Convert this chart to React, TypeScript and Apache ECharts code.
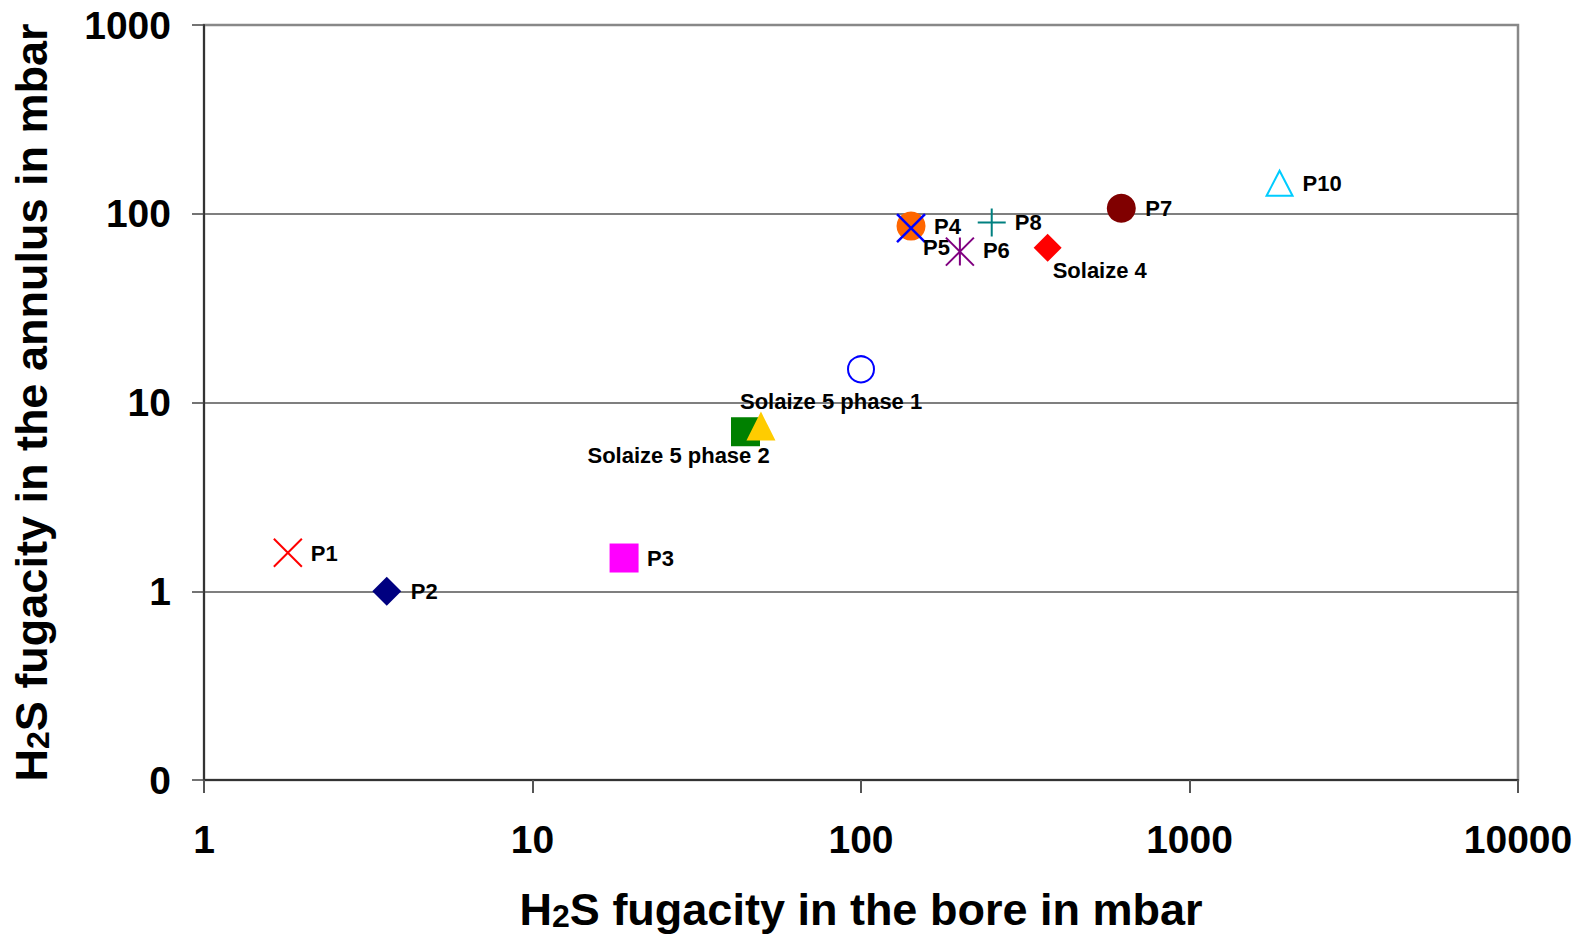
import React, { useEffect, useRef } from "react";
import * as echarts from "echarts";

// ---- Data ----
const seriesNames = [
  "P1",
  "P2",
  "P3",
  "Solaize 5 phase 2",
  "Solaize 5",
  "Solaize 5 phase 1",
  "P4",
  "P5",
  "P6",
  "P8",
  "Solaize 4",
  "P7",
  "P10",
];
const boreFugacity = [1.8, 3.6, 19, 44.5, 49.6, 100, 142, 142, 200, 250, 370, 620, 1880];
const annulusFugacity = [1.6, 1.0, 1.5, 7.0, 7.5, 15, 86, 84, 63, 90, 66, 107, 145];
const showLabel = [true, true, true, true, false, true, true, true, true, true, true, true, true];

const xTickValues = [1, 10, 100, 1000, 10000];
const xTickLabels = ["1", "10", "100", "1000", "10000"];
const yTickValues = [0.1, 1, 10, 100, 1000];
const yTickLabels = ["0", "1", "10", "100", "1000"];

const xAxisTitle = "H{sub|2}S fugacity in the bore in mbar";
const yAxisTitle = "H{sub|2}S fugacity in the annulus in mbar";

// ---- Styles ----
const SYM_X = "path://M0,0L28,28M28,0L0,28";
const SYM_PLUS = "path://M14,0L14,28M0,14L28,14";
const SYM_STAR = "path://M0,0L28,28M28,0L0,28M14,0L14,28";

type Mk = { symbol: string; color: string; size: number | number[]; line?: number };
const markers: Mk[] = [
  { symbol: SYM_X, color: "#FF0000", size: 28, line: 2 },
  { symbol: "diamond", color: "#000080", size: 29 },
  { symbol: "rect", color: "#FF00FF", size: 29 },
  { symbol: "rect", color: "#008000", size: 29 },
  { symbol: "triangle", color: "#FFCC00", size: [29, 29] },
  { symbol: "emptyCircle", color: "#0000FF", size: 26, line: 2.5 },
  { symbol: "circle", color: "#FF6600", size: 29 },
  { symbol: SYM_X, color: "#0000FF", size: 28, line: 2.5 },
  { symbol: SYM_STAR, color: "#800080", size: 28, line: 2 },
  { symbol: SYM_PLUS, color: "#008080", size: 28, line: 2 },
  { symbol: "diamond", color: "#FF0000", size: 28 },
  { symbol: "circle", color: "#800000", size: 29 },
  { symbol: "emptyTriangle", color: "#00CCFF", size: [26, 25], line: 2.5 },
];
const labelOffsets: number[][] = [
  [23, 1],
  [24, 0],
  [23, 0],
  [-158, 24],
  [0, 0],
  [-121, 32],
  [23, 0],
  [12, 19],
  [23, -1],
  [23, 0],
  [5, 23],
  [24, 0],
  [23, 0],
];

const FONT = "'Liberation Sans', Arial, Helvetica, sans-serif";

function tickFormatter(values: number[], labels: string[]) {
  return (v: number) => {
    const lv = Math.log10(v);
    for (let i = 0; i < values.length; i++) {
      if (Math.abs(Math.log10(values[i]) - lv) < 1e-6) return labels[i];
    }
    return "";
  };
}

const titleStyle = {
  fontSize: 45,
  fontWeight: "bold" as const,
  color: "#000",
  fontFamily: FONT,
  rich: {
    sub: {
      fontSize: 32,
      fontWeight: "bold" as const,
      color: "#000",
      fontFamily: FONT,
      lineHeight: 30,
      padding: [32, 0, 0, 0],
      verticalAlign: "bottom" as const,
    },
  },
};

export default function App() {
  const ref = useRef<HTMLDivElement>(null);
  useEffect(() => {
    if (!ref.current) return;
    const chart = echarts.init(ref.current, undefined, { renderer: "svg" });
    const series = seriesNames.map((name, i) => {
      const m = markers[i];
      const isPath = m.symbol.startsWith("path://");
      return {
        type: "scatter",
        name,
        data: [[boreFugacity[i], annulusFugacity[i]]],
        symbol: m.symbol,
        symbolSize: m.size,
        itemStyle: isPath
          ? { color: m.color, borderColor: m.color, borderWidth: m.line, opacity: 1 }
          : m.symbol.startsWith("empty")
          ? { color: m.color, borderWidth: m.line, opacity: 1 }
          : { color: m.color, opacity: 1 },
        label: {
          show: showLabel[i],
          formatter: name,
          position: "inside",
          align: "left",
          verticalAlign: "middle",
          offset: labelOffsets[i],
          fontSize: 22,
          fontWeight: "bold",
          color: "#000",
          fontFamily: FONT,
        },
        emphasis: { disabled: true },
        z: 3 + i,
      };
    });
    chart.setOption({
      animation: false,
      backgroundColor: "#fff",
      grid: {
        left: 204,
        right: 68,
        top: 25,
        bottom: 156,
        show: true,
        borderColor: "#888",
        borderWidth: 2.5,
        containLabel: false,
        outerBoundsMode: "none",
      },
      xAxis: {
        type: "log",
        logBase: 10,
        min: 1,
        max: 10000,
        name: xAxisTitle,
        nameLocation: "middle",
        nameGap: 107,
        nameTextStyle: titleStyle,
        axisLine: { show: true, lineStyle: { color: "#333", width: 2 } },
        axisTick: { show: true, inside: false, length: 13, lineStyle: { color: "#555", width: 2 } },
        axisLabel: {
          formatter: tickFormatter(xTickValues, xTickLabels),
          fontSize: 39,
          fontWeight: "bold",
          color: "#000",
          fontFamily: FONT,
          margin: 40,
        },
        splitLine: { show: false },
        minorTick: { show: false },
      },
      yAxis: {
        type: "log",
        logBase: 10,
        min: 0.1,
        max: 1000,
        name: yAxisTitle,
        nameLocation: "middle",
        nameGap: 150,
        nameTextStyle: titleStyle,
        axisLine: { show: true, lineStyle: { color: "#333", width: 2 } },
        axisTick: { show: true, inside: false, length: 12, lineStyle: { color: "#444", width: 1.5 } },
        axisLabel: {
          formatter: tickFormatter(yTickValues, yTickLabels),
          fontSize: 39,
          fontWeight: "bold",
          color: "#000",
          fontFamily: FONT,
          margin: 33,
        },
        splitLine: {
          show: true,
          showMinLine: false,
          showMaxLine: false,
          lineStyle: { color: "#555", width: 1.5 },
        },
      },
      series,
    });
    return () => chart.dispose();
  }, []);
  return (
    <div
      ref={ref}
      style={{ position: "fixed", left: 0, top: 0, width: 1586, height: 936 }}
    />
  );
}
